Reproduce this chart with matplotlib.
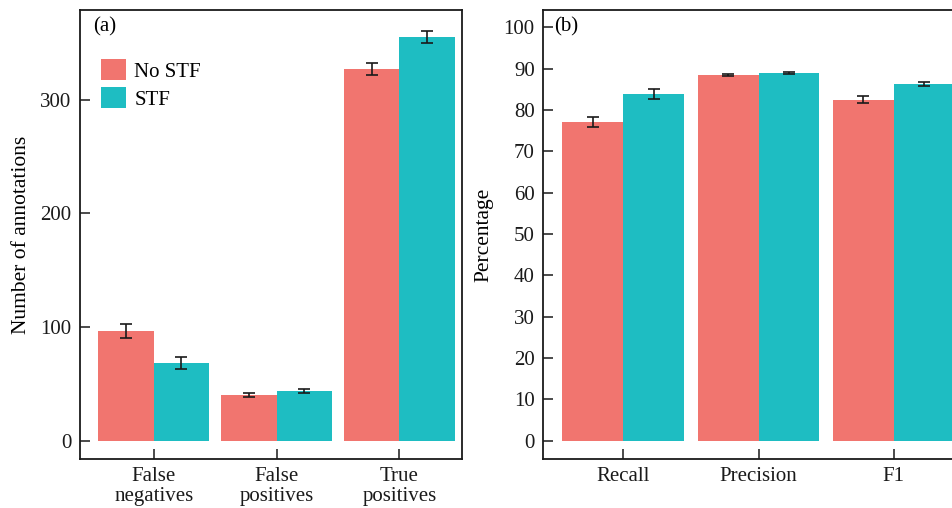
import numpy as np
import matplotlib
matplotlib.use("Agg")
import matplotlib.pyplot as plt

# values
count_cats = ["False\nnegatives", "False\npositives", "True\npositives"]
count_nostf = [96.7, 40.5, 327.2]
count_nostf_err = [6.0, 1.8, 5.4]
count_stf = [68.6, 44.0, 355.3]
count_stf_err = [5.0, 1.7, 5.0]

pct_cats = ["Recall", "Precision", "F1"]
pct_nostf = [77.1, 88.5, 82.5]
pct_nostf_err = [1.2, 0.2, 0.9]
pct_stf = [83.8, 89.0, 86.3]
pct_stf_err = [1.2, 0.2, 0.55]

red = "#F1756F"
teal = "#1EBDC2"

plt.rcParams['font.family'] = ['Liberation Serif', 'DejaVu Serif']
plt.rcParams['font.size'] = 15

fig = plt.figure(figsize=(9.52, 5.08), dpi=100)
ax1 = fig.add_axes([80 / 952, 49 / 508, 382 / 952, 449 / 508])
ax2 = fig.add_axes([543 / 952, 49 / 508, 432 / 952, 449 / 508])

w = 0.45
err_kw = dict(ecolor="#1a1a1a", elinewidth=1.2, capsize=4.5, capthick=1.2)


def draw_panel(ax, cats, a, a_err, b, b_err):
    x = np.arange(1, len(cats) + 1)
    ax.bar(x - w / 2, a, w, yerr=a_err, color=red, label="No STF", error_kw=err_kw)
    ax.bar(x + w / 2, b, w, yerr=b_err, color=teal, label="STF", error_kw=err_kw)
    ax.set_xticks(x)
    ax.set_xticklabels(cats, linespacing=1.08)
    ax.tick_params(direction="in", length=7, width=1.1, pad=6, labelsize=15,
                   colors="#1a1a1a")
    for s in ax.spines.values():
        s.set_linewidth(1.3)
        s.set_color("#1a1a1a")


draw_panel(ax1, count_cats, count_nostf, count_nostf_err, count_stf, count_stf_err)
ax1.set_xlim(0.4, 3.51)
ax1.set_ylim(-16, 379)
ax1.set_yticks([0, 100, 200, 300])
ax1.set_ylabel("Number of annotations", fontsize=15.5, labelpad=7)
ax1.text(0.034, 0.962, "(a)", transform=ax1.transAxes, va="center", ha="left")
ax1.legend(loc="upper left", bbox_to_anchor=(0.055, 0.891), frameon=False,
           borderpad=0, borderaxespad=0, handlelength=1.2, handleheight=1.2,
           labelspacing=0.26, handletextpad=0.4)

draw_panel(ax2, pct_cats, pct_nostf, pct_nostf_err, pct_stf, pct_stf_err)
ax2.set_xlim(0.406, 3.6)
ax2.set_ylim(-4.4, 104.2)
ax2.set_yticks(np.arange(0, 101, 10))
ax2.set_ylabel("Percentage", fontsize=15.5, labelpad=7)
ax2.text(0.025, 0.962, "(b)", transform=ax2.transAxes, va="center", ha="left")

fig.savefig("out.png", dpi=100)
